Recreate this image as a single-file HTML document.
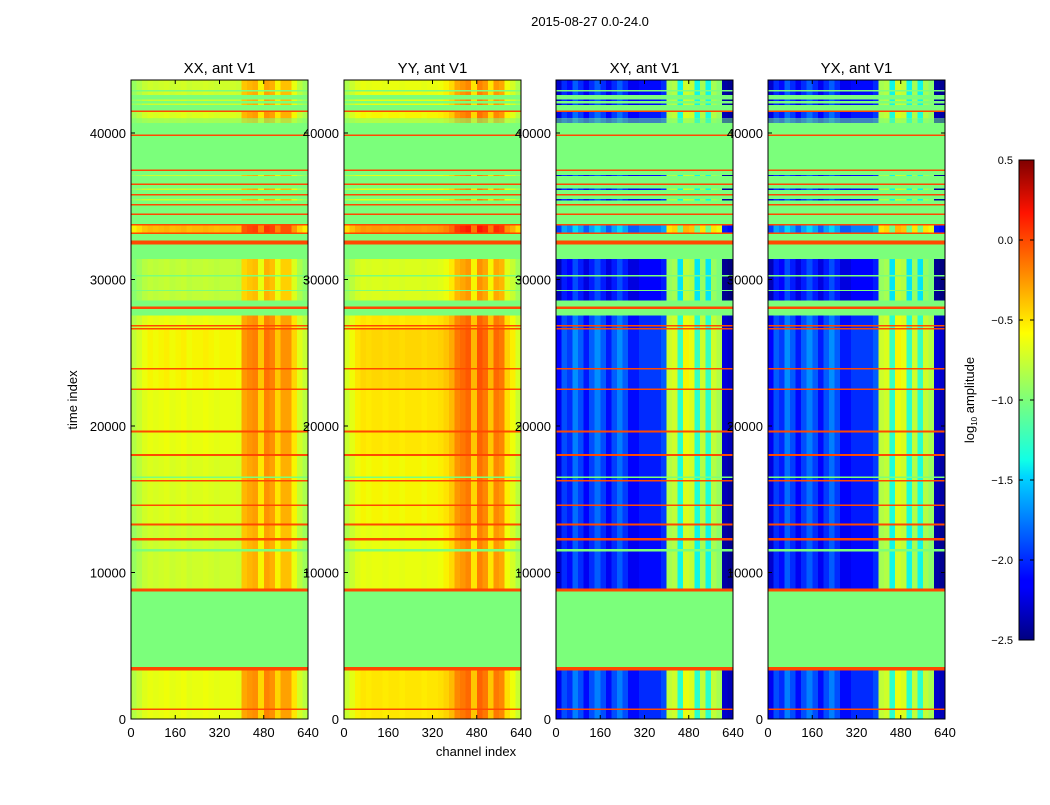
<!DOCTYPE html>
<html><head><meta charset="utf-8"><style>
html,body{margin:0;padding:0;background:#fff;}
svg text{font-family:"Liberation Sans",sans-serif;fill:#000;}
</style></head><body>
<svg id="fig" width="1050" height="800" xmlns="http://www.w3.org/2000/svg">
<rect width="1050" height="800" fill="#fff"/>
<text x="590" y="26" font-size="13" text-anchor="middle">2015-08-27 0.0-24.0</text>
<text x="77" y="400" font-size="13" text-anchor="middle" transform="rotate(-90 77 400)">time index</text>
<text x="476" y="756" font-size="13" text-anchor="middle">channel index</text>
<g id="panels"></g>
<defs><linearGradient id="jet" x1="0" y1="1" x2="0" y2="0">
<stop offset="0" stop-color="#000080"/><stop offset="0.11" stop-color="#0000ff"/><stop offset="0.125" stop-color="#0000ff"/>
<stop offset="0.34" stop-color="#00d5ff"/><stop offset="0.375" stop-color="#11ffe6"/><stop offset="0.5" stop-color="#7dff7a"/><stop offset="0.64" stop-color="#ffff00"/>
<stop offset="0.89" stop-color="#ff1300"/><stop offset="1" stop-color="#800000"/></linearGradient></defs>
<g id="cbar">
<rect x="1019" y="160" width="15" height="480" fill="url(#jet)" stroke="#000" stroke-width="1"/>
<text x="974" y="400" font-size="13" text-anchor="middle" transform="rotate(-90 974 400)">log<tspan font-size="8" dy="3">10</tspan><tspan dy="-3"> amplitude</tspan></text>
</g>
</svg>
<script>
// ---- data ----
const panelTitles = ["XX, ant V1","YY, ant V1","XY, ant V1","YX, ant V1"];
const xTicks = [0,160,320,480,640];
const yTicks = [0,10000,20000,30000,40000];
const cbTicks = [0.5,0.0,-0.5,-1.0,-1.5,-2.0,-2.5];
const binWidth = 20;
const profXX = [-0.9,-0.82,-0.74,-0.7,-0.72,-0.7,-0.68,-0.72,-0.7,-0.68,-0.72,-0.7,-0.7,-0.68,-0.7,-0.72,-0.7,-0.7,-0.7,-0.72,-0.4,-0.35,-0.32,-0.55,-0.28,-0.33,-0.55,-0.38,-0.38,-0.6,-0.78,-0.88];
const profYY = [-0.82,-0.72,-0.64,-0.6,-0.62,-0.6,-0.6,-0.62,-0.6,-0.6,-0.62,-0.6,-0.6,-0.6,-0.62,-0.6,-0.6,-0.58,-0.54,-0.46,-0.3,-0.25,-0.2,-0.5,-0.18,-0.25,-0.5,-0.25,-0.3,-0.58,-0.68,-0.82];
const profXY = [-2.3,-2.0,-2.1,-1.85,-2.0,-2.2,-2.0,-1.85,-2.0,-2.2,-2.0,-1.85,-2.0,-2.2,-2.2,-2.1,-2.1,-2.1,-2.1,-2.0,-0.85,-0.8,-1.4,-0.7,-0.75,-1.4,-0.85,-1.4,-0.85,-0.95,-2.4,-2.45];
const profYX = [-2.3,-2.0,-2.1,-1.85,-2.0,-2.2,-2.0,-1.85,-2.0,-2.2,-2.0,-1.85,-2.0,-2.2,-2.2,-2.1,-2.1,-2.1,-2.1,-2.0,-0.85,-0.8,-1.4,-0.7,-0.75,-1.4,-0.85,-1.4,-0.85,-0.95,-2.4,-2.45];
const bandStart = [0,600,700,3300,3550,8700,8900,11450,11600,12200,12350,13200,13350,14550,14650,16200,16300,16450,16550,17950,18100,19550,19700,22450,22550,23850,23950,26600,26700,26800,26900,27550,28000,28150,28550,29200,29300,30200,30300,31400,32400,32650,33100,33200,33700,33800,34400,34500,35050,35150,35400,35500,35750,35850,36100,36200,36450,36550,37050,37150,37400,37500,39800,39900,40700,40800,40850,40950,41000,41450,41550,41900,42000,42200,42300,42600,42850,42950];
const bandKind = ["d","r","d","r","g","r","d","g","d","r","d","r","d","r","d","r","d","g","d","r","d","r","d","r","d","r","d","r","d","r","d","g","r","g","d","g","d","g","d","g","r","g","r","d","r","g","r","g","r","g","d","g","r","g","d","g","r","g","d","g","r","g","r","g","d","g","d","g","d","r","g","d","g","d","g","d","g","d"];
const bandLevel = [0.1,0,0.1,0,0,0,0,0,0,0,0,0,0.05,0,0.05,0,0.05,0,0.05,0,0.1,0,0.1,0,0.15,0,0.15,0,0.1,0,0.1,0,0,0,-0.05,0,-0.05,0,-0.05,0,0,0,0,0.35,0,0,0,0,0,0,0,0,0,0,0,0,0,0,0,0,0,0,0,0,0,0,0,0,0.05,0,0,0,0,0,0,0,0,0];
const flagValue = -1.0, redValue = 0.0;
// ---- layout ----
const profiles=[profXX,profYY,profXY,profYX];
const panelX=[131,344,556,768], PW=177, PTOP=80, PBOT=719, TMAX=43618, CMAX=640;
const VMIN=-2.5,VMAX=0.5;
const NS="http://www.w3.org/2000/svg";
const JR=[[0,0],[0.35,0],[0.66,1],[0.89,1],[1,0.5]];
const JG=[[0,0],[0.125,0],[0.375,1],[0.64,1],[0.91,0],[1,0]];
const JB=[[0,0.5],[0.11,1],[0.34,1],[0.65,0],[1,0]];
function seg(s,v){for(let i=1;i<s.length;i++){if(v<=s[i][0]){const a=s[i-1],b=s[i];return a[1]+(b[1]-a[1])*(v-a[0])/(b[0]-a[0]);}}return s[s.length-1][1];}
function jet(x){const v=Math.max(0,Math.min(1,(x-VMIN)/(VMAX-VMIN)));
 return `rgb(${Math.round(seg(JR,v)*255)},${Math.round(seg(JG,v)*255)},${Math.round(seg(JB,v)*255)})`;}
function yScale(t){return PBOT-(t/TMAX)*(PBOT-PTOP);}
function xScale(p,c){return panelX[p]+c/CMAX*PW;}
function mk(tag,attrs,parent){const e=document.createElementNS(NS,tag);for(const k in attrs)e.setAttribute(k,attrs[k]);parent.appendChild(e);return e;}
const root=document.getElementById('panels');
for(let p=0;p<4;p++){
 const g=mk('g',{},root);
 
 
 const hm=mk('g',{'shape-rendering':'crispEdges'},g);
 
 
 for(let i=0;i<bandStart.length;i++){
  const t0=bandStart[i], t1=i+1<bandStart.length?bandStart[i+1]:TMAX;
  const y0=yScale(t1), y1=yScale(t0);
  if(bandKind[i]!=='d'){
   const r=mk('rect',{x:xScale(p,0),y:y0,width:PW,height:Math.max(1,y1-y0),fill:jet(bandKind[i]==='g'?flagValue:redValue)},hm);
   
   
  } else {
   const prof=profiles[p];
   for(let b=0;b<prof.length;b++){
    const xa=xScale(p,b*binWidth), xb=xScale(p,(b+1)*binWidth);
    const r=mk('rect',{x:xa,y:y0,width:xb-xa+0.3,height:Math.max(1,y1-y0),fill:jet(prof[b]+bandLevel[i])},hm);
    
    
   }
  }
 }
 const fr=mk('rect',{x:panelX[p],y:PTOP,width:PW,height:PBOT-PTOP,fill:'none',stroke:'#000','stroke-width':1},g);
 
 
 const tt=mk('text',{x:panelX[p]+PW/2,y:73,'font-size':15,'text-anchor':'middle'},g);
 tt.textContent=panelTitles[p];
 
 
 xTicks.forEach(c=>{const x=xScale(p,c);
  mk('line',{x1:x,x2:x,y1:PBOT,y2:PBOT-4,stroke:'#000'},g);
  mk('line',{x1:x,x2:x,y1:PTOP,y2:PTOP+4,stroke:'#000'},g);
  const l=mk('text',{x:x,y:737,'font-size':13,'text-anchor':'middle'},g);l.textContent=c;
  
  });
 yTicks.forEach(t=>{const y=yScale(t);
  mk('line',{x1:panelX[p],x2:panelX[p]+4,y1:y,y2:y,stroke:'#000'},g);
  mk('line',{x1:panelX[p]+PW,x2:panelX[p]+PW-4,y1:y,y2:y,stroke:'#000'},g);
  const l=mk('text',{x:panelX[p]-5,y:y+5,'font-size':13,'text-anchor':'end'},g);l.textContent=t;
  
  });
}
const cb=document.getElementById('cbar');
cbTicks.forEach(v=>{const y=160+(VMAX-v)/(VMAX-VMIN)*480;
 mk('line',{x1:1019,x2:1023,y1:y,y2:y,stroke:'#000'},cb);
 mk('line',{x1:1034,x2:1030,y1:y,y2:y,stroke:'#000'},cb);
 const l=mk('text',{x:1013,y:y+4,'font-size':11,'text-anchor':'end'},cb);
 l.textContent=(v<0?'\u2212':'')+Math.abs(v).toFixed(1);
 
 });
</script>
</body></html>
